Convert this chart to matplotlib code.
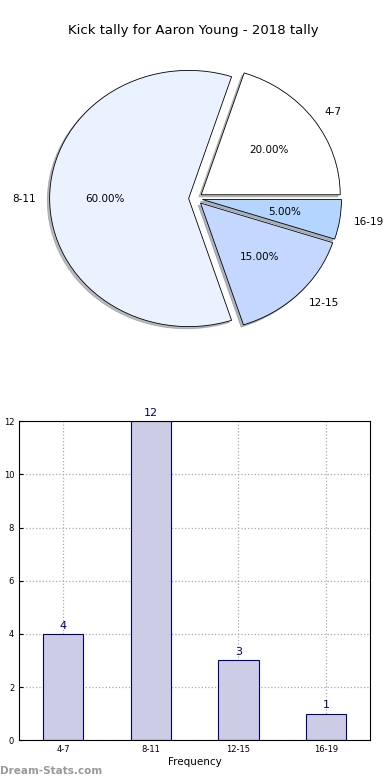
import matplotlib
matplotlib.use('Agg')
import matplotlib.pyplot as plt

# Pie data
PIE_LABELS = ['4-7', '8-11', '12-15', '16-19']
PIE_VALUES = [4, 12, 3, 1]
PIE_COLORS = ['#ffffff', '#eaf1ff', '#c4d8ff', '#b4d5ff']

# Bar data
BAR_LABELS = ['4-7', '8-11', '12-15', '16-19']
BAR_VALUES = [4, 12, 3, 1]

TITLE = 'Kick tally for Aaron Young - 2018 tally'

fig = plt.figure(figsize=(3.9, 7.8), dpi=100)

# Pie chart (not equal aspect, like the old style)
ax_pie = fig.add_axes([0.031, 0.532, 0.941, 0.427])
wedges, texts, autotexts = ax_pie.pie(
  PIE_VALUES, labels=PIE_LABELS, colors=PIE_COLORS,
  explode=[0.05] * len(PIE_VALUES), autopct='%1.2f%%',
  shadow={'ox': -0.012, 'oy': -0.012, 'shade': 0.5},
  startangle=0, wedgeprops={'edgecolor': 'black', 'linewidth': 0.6},
  textprops={'fontsize': 7.5})
ax_pie.set_aspect('auto')
ax_pie.set_xlim(-1.32, 1.32)
ax_pie.set_ylim(-1.3, 1.3)
fig.text(0.495, 0.961, TITLE, ha='center', va='center', fontsize=9.5)

# Bar chart
ax_bar = fig.add_axes([0.049, 0.051, 0.9, 0.409])
x = range(len(BAR_VALUES))
bars = ax_bar.bar(x, BAR_VALUES, width=0.46, color='#ccccE4',
                  edgecolor='#000080', linewidth=0.8, zorder=2)
for xi, v in zip(x, BAR_VALUES):
  ax_bar.text(xi, v + 0.12, str(v), ha='center', va='bottom',
              color='#000080', fontsize=8)
ax_bar.set_xlim(-0.5, 3.5)
ax_bar.set_ylim(0, 12)
ax_bar.set_xticks(list(x))
ax_bar.set_xticklabels(BAR_LABELS)
ax_bar.set_yticks(range(0, 13, 2))
ax_bar.tick_params(labelsize=6, direction='in', length=3)
ax_bar.grid(True, linestyle=':', color='#aaaaaa', linewidth=0.9, zorder=0)
ax_bar.set_axisbelow(True)
ax_bar.set_xlabel('Frequency', fontsize=7.5, labelpad=2)
ax_bar.set_ylabel('Stat Total', fontsize=7.5)
ax_bar.yaxis.set_label_coords(-0.045, 0.5)

fig.text(0.0, 0.012, 'Dream-Stats.com', ha='left', va='center',
         fontsize=7.5, color='#999999', fontweight='bold')

fig.savefig('out.png', dpi=100)
